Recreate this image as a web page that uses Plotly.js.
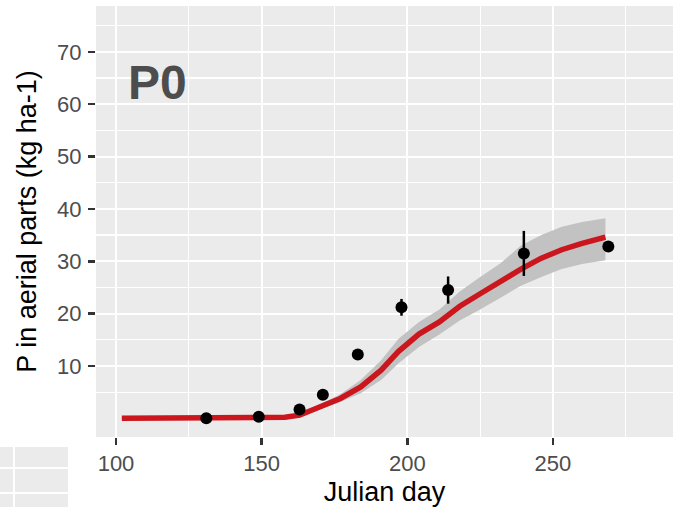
<!DOCTYPE html>
<html><head><meta charset="utf-8">
<script src="https://cdn.plot.ly/plotly-3.0.1.min.js"></script>
<style>html,body{margin:0;padding:0;background:#fff}#chart{width:673px;height:507px}</style>
</head><body><div id="chart"></div>
<script>
// Observed data (Julian day, P in aerial parts, error half-width)
const obsDay = [131, 149, 163, 171, 183, 198, 214, 240, 269];
const obsP   = [0.0, 0.3, 1.7, 4.5, 12.2, 21.2, 24.5, 31.5, 32.8];
const obsErr = [0, 0, 0, 0, 0, 1.6, 2.6, 4.3, 0];

// Simulated curve and its uncertainty band
const simDay   = [102, 120, 140, 150, 158, 163, 170, 177, 184, 191, 197, 204, 211, 218, 225, 232, 239, 246, 253, 260, 268];
const simP     = [0, 0, 0, 0.05, 0.2, 0.6, 2.2, 3.8, 6.0, 9.2, 12.8, 16.1, 18.4, 21.4, 23.8, 26.2, 28.5, 30.6, 32.2, 33.4, 34.6];
const simLower = [-0.2, -0.2, -0.2, -0.15, 0.0, 0.3, 1.7, 3.1, 4.8, 7.3, 10.5, 13.6, 16.0, 18.7, 20.8, 23.0, 25.3, 27.0, 28.5, 29.5, 30.2];
const simUpper = [0.2, 0.2, 0.2, 0.25, 0.45, 1.0, 2.7, 4.6, 7.3, 11.1, 15.2, 18.4, 20.8, 24.2, 27.0, 29.6, 33.0, 35.0, 36.6, 37.5, 38.2];

const xTicks = [100, 150, 200, 250];
const xMinor = [125, 175, 225, 275];
const yTicks = [10, 20, 30, 40, 50, 60, 70];
const yMinor = [5, 15, 25, 35, 45, 55, 65, 75];
const panelLabel = 'P0';

const traces = [
  {x: simDay, y: simLower, mode: 'lines', line: {width: 0, color: 'rgba(0,0,0,0)'}, hoverinfo: 'skip', showlegend: false},
  {x: simDay, y: simUpper, mode: 'lines', line: {width: 0, color: 'rgba(0,0,0,0)'}, fill: 'tonexty', fillcolor: '#C2C2C2', hoverinfo: 'skip', showlegend: false},
  {x: simDay, y: simP, mode: 'lines', line: {color: '#CA161C', width: 5.5}, showlegend: false},
  {x: obsDay, y: obsP, mode: 'markers', marker: {color: '#000', size: 12},
   error_y: {type: 'data', array: obsErr, visible: true, color: '#000', thickness: 2.5, width: 0}, showlegend: false},
  {x: [], y: [], xaxis: 'x2', yaxis: 'y2', mode: 'markers', showlegend: false, hoverinfo: 'skip'}
];

const tickFont = {family: 'Liberation Sans, Arial, sans-serif', size: 22, color: '#4D4D4D'};
const titleFont = {family: 'Liberation Sans, Arial, sans-serif', size: 27, color: '#000'};

const layout = {
  width: 673, height: 507,
  margin: {l: 0, r: 0, t: 0, b: 0},
  paper_bgcolor: '#FFFFFF',
  plot_bgcolor: '#EBEBEB',
  showlegend: false,
  xaxis: {
    domain: [96/673, 1], anchor: 'y',
    range: [93.13, 291.2],
    tickmode: 'array', tickvals: xTicks, ticktext: xTicks.map(String),
    ticks: 'outside', ticklen: 7, tickwidth: 2.5, tickcolor: '#333333',
    tickfont: tickFont,
    showgrid: true, gridcolor: '#FFFFFF', gridwidth: 2,
    minor: {tickmode: 'array', tickvals: xMinor, showgrid: true, gridcolor: '#FFFFFF', gridwidth: 1.2, ticks: ''},
    zeroline: false, showline: false,
    title: {text: 'Julian day', font: titleFont, standoff: 6},
    automargin: false
  },
  yaxis: {
    domain: [70/507, 501/507], anchor: 'x',
    range: [-3.57, 78.76],
    tickmode: 'array', tickvals: yTicks, ticktext: yTicks.map(String),
    ticks: 'outside', ticklen: 7, tickwidth: 2.5, tickcolor: '#333333',
    tickfont: tickFont, ticklabelstandoff: 2,
    showgrid: true, gridcolor: '#FFFFFF', gridwidth: 2,
    minor: {tickmode: 'array', tickvals: yMinor, showgrid: true, gridcolor: '#FFFFFF', gridwidth: 1.2, ticks: ''},
    zeroline: false, showline: false,
    title: {text: 'P in aerial parts (kg ha-1)', font: titleFont, standoff: 12},
    automargin: false
  },
  xaxis2: {
    domain: [0, 68/673], anchor: 'y2', range: [0, 68],
    tickmode: 'array', tickvals: [14], showticklabels: false, ticks: '',
    showgrid: true, gridcolor: '#FFFFFF', gridwidth: 2, zeroline: false, showline: false, fixedrange: true
  },
  yaxis2: {
    domain: [0, 60/507], anchor: 'x2', range: [0, 60],
    tickmode: 'array', tickvals: [14, 39], showticklabels: false, ticks: '',
    showgrid: true, gridcolor: '#FFFFFF', gridwidth: 2, zeroline: false, showline: false, fixedrange: true
  },
  annotations: [{
    text: panelLabel, x: 114.1, y: 64.2, xref: 'x', yref: 'y',
    xanchor: 'center', yanchor: 'middle', showarrow: false,
    font: {family: 'Liberation Sans, Arial, sans-serif', size: 48, color: '#4D4D4D', weight: 'bold'}
  }]
};

Plotly.newPlot('chart', traces, layout, {staticPlot: true, displayModeBar: false});
</script>
</body></html>
